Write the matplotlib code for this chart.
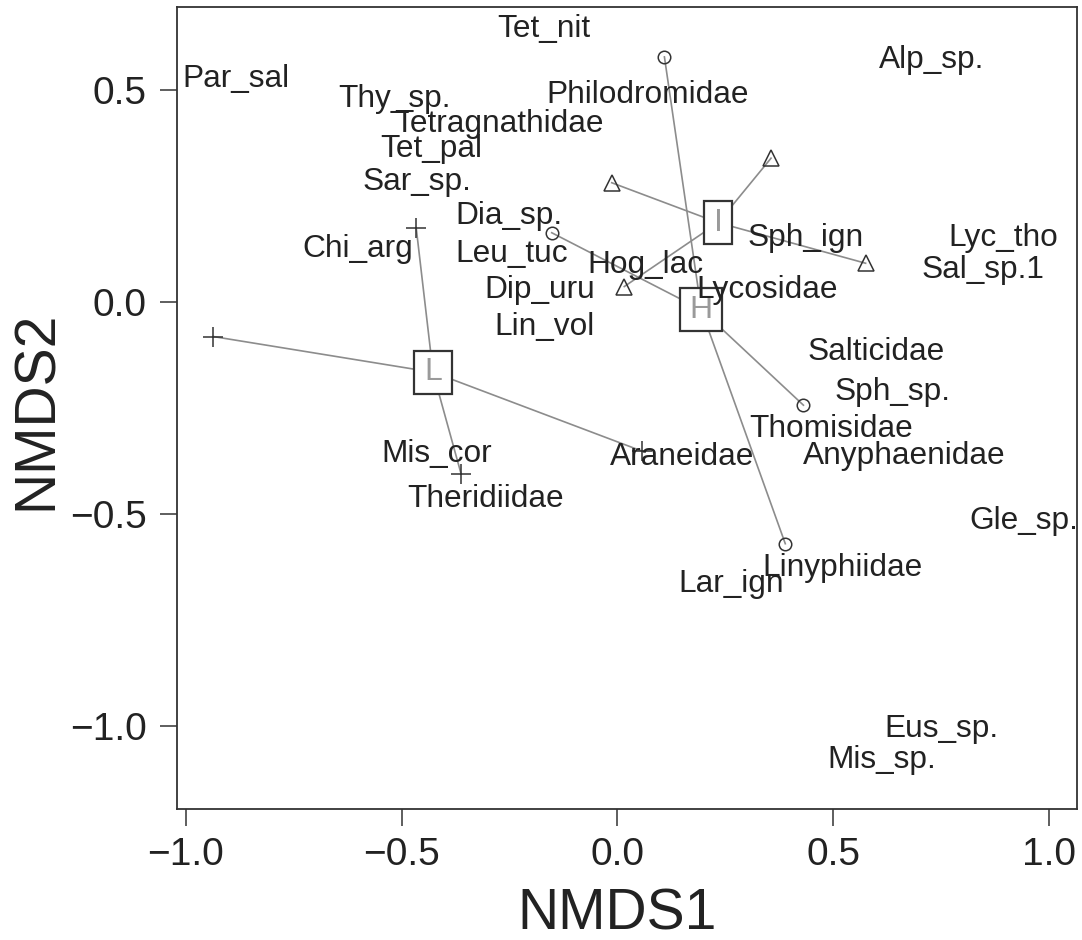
import matplotlib
matplotlib.use("Agg")
import matplotlib.pyplot as plt
from matplotlib.path import Path
import numpy as np

plt.rcParams['font.family'] = ['Liberation Sans', 'DejaVu Sans']

# site scores (NMDS1, NMDS2) by habitat group
grupos = ['L', 'I', 'H']
sitios_x = {'L': [-0.936, -0.466, -0.362, 0.056],
            'I': [-0.013, 0.356, 0.575, 0.016],
            'H': [0.109, -0.152, 0.431, 0.389]}
sitios_y = {'L': [-0.081, 0.176, -0.405, -0.351],
            'I': [0.282, 0.340, 0.092, 0.037],
            'H': [0.579, 0.164, -0.243, -0.570]}
marcadores = {'L': '+', 'I': '^', 'H': 'o'}

# species scores
especies = ['Tet_nit', 'Par_sal', 'Thy_sp.', 'Philodromidae', 'Tetragnathidae',
            'Tet_pal', 'Sar_sp.', 'Dia_sp.', 'Chi_arg', 'Leu_tuc', 'Hog_lac',
            'Dip_uru', 'Lin_vol', 'Sph_ign', 'Lycosidae', 'Alp_sp.', 'Lyc_tho',
            'Sal_sp.1', 'Salticidae', 'Sph_sp.', 'Thomisidae', 'Araneidae',
            'Anyphaenidae', 'Mis_cor', 'Theridiidae', 'Gle_sp.', 'Linyphiidae',
            'Lar_ign', 'Eus_sp.', 'Mis_sp.']
esp_x = [-0.170, -0.884, -0.516, 0.069, -0.274, -0.430, -0.464, -0.250, -0.602,
         -0.244, 0.066, -0.179, -0.169, 0.435, 0.347, 0.727, 0.893, 0.847, 0.599,
         0.638, 0.496, 0.149, 0.665, -0.418, -0.305, 0.941, 0.521, 0.263, 0.751, 0.612]
esp_y = [0.654, 0.534, 0.487, 0.498, 0.430, 0.369, 0.293, 0.212, 0.135, 0.123,
         0.097, 0.038, -0.051, 0.159, 0.036, 0.581, 0.161, 0.085, -0.110, -0.203,
         -0.292, -0.356, -0.354, -0.351, -0.457, -0.509, -0.618, -0.656, -1.000, -1.073]

escuro = '#222222'
cinza = '#8c8c8c'


def caixa(x0, y0, width, height, mutation_size):
    # caixa retangular com folga maior na horizontal (estilo ordilabel)
    px = 0.30 * mutation_size
    py = 0.20 * mutation_size
    x0, y0 = x0 - px, y0 - py
    x1, y1 = x0 + width + 2 * px, y0 + height + 2 * py
    return Path([(x0, y0), (x1, y0), (x1, y1), (x0, y1), (x0, y0)], closed=True)


fig = plt.figure(figsize=(10.82, 9.40), dpi=100)
ax = fig.add_axes([0.164, 0.1394, 0.8311, 0.8528])

for g in grupos:
    xs = np.array(sitios_x[g])
    ys = np.array(sitios_y[g])
    cx, cy = xs.mean(), ys.mean()
    for x, y in zip(xs, ys):
        ax.plot([cx, x], [cy, y], color=cinza, lw=1.2, zorder=1)
    if marcadores[g] == '+':
        ax.plot(xs, ys, '+', ms=15, mew=1.1, color='#333333', zorder=2)
    elif marcadores[g] == '^':
        ax.plot(xs, ys, '^', ms=12, mfc='none', mew=1.1, color='#333333', zorder=2)
    else:
        ax.plot(xs, ys, 'o', ms=9, mfc='none', mew=1.1, color='#333333', zorder=2)
    ax.text(cx, cy, g, fontsize=23, color='#9a9a9a', ha='center', va='center',
            zorder=3, bbox=dict(boxstyle=caixa, fc='white', ec='#333333', lw=1.6))

for nome, x, y in zip(especies, esp_x, esp_y):
    ax.text(x, y, nome, fontsize=22.8, color=escuro, ha='center',
            va='center_baseline', zorder=4, clip_on=True)

ax.set_xlim(-1.019, 1.064)
ax.set_ylim(-1.196, 0.696)
ax.set_xticks([-1.0, -0.5, 0.0, 0.5, 1.0])
ax.set_yticks([-1.0, -0.5, 0.0, 0.5])
ax.set_xticklabels(['\u22121.0', '\u22120.5', '0.0', '0.5', '1.0'])
ax.set_yticklabels(['\u22121.0', '\u22120.5', '0.0', '0.5'])
ax.tick_params(axis='both', labelsize=28, length=12, width=1.1, color='#333333',
               labelcolor=escuro)
ax.tick_params(axis='x', pad=8)
ax.tick_params(axis='y', pad=10)
for s in ax.spines.values():
    s.set_linewidth(1.3)
    s.set_color('#333333')

fig.text(0.5705, 0.027, 'NMDS1', fontsize=41, color=escuro, ha='center', va='center')
fig.text(0.034, 0.564, 'NMDS2', fontsize=41, color=escuro, ha='center', va='center',
         rotation=90)

fig.savefig('out.png', dpi=100)
